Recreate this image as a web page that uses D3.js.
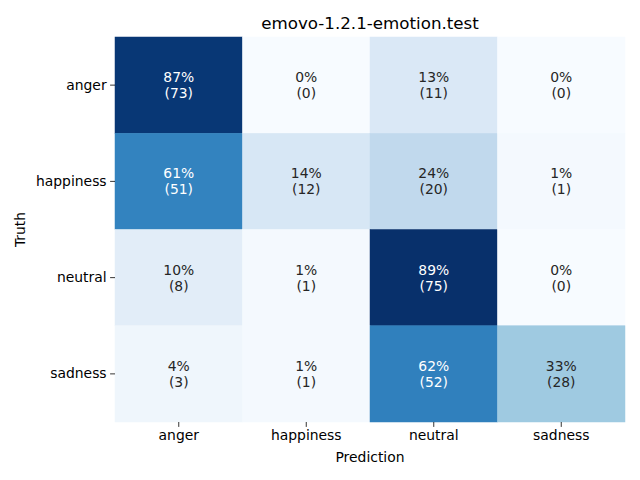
<!DOCTYPE html>
<html>
<head>
<meta charset="utf-8">
<script src="https://cdn.jsdelivr.net/npm/d3@7"></script>
<style>
  html, body { margin: 0; padding: 0; background: #fff; }
  text { font-family: "DejaVu Sans", sans-serif; }
</style>
</head>
<body>
<svg id="chart" width="640" height="480"></svg>
<script>
const title = "emovo-1.2.1-emotion.test";
const truthLabels = ["anger", "happiness", "neutral", "sadness"];
const predLabels = ["anger", "happiness", "neutral", "sadness"];
// counts[truth][prediction]
const countsAnger = [73, 0, 11, 0];
const countsHappiness = [51, 12, 20, 1];
const countsNeutral = [8, 1, 75, 0];
const countsSadness = [3, 1, 52, 28];
const counts = [countsAnger, countsHappiness, countsNeutral, countsSadness];
const xAxisLabel = "Prediction";
const yAxisLabel = "Truth";

const svg = d3.select("#chart");
const pLeft = 115, pRight = 625, pTop = 37, pBottom = 422;

const x = d3.scaleBand().domain(predLabels).range([pLeft, pRight]);
const y = d3.scaleBand().domain(truthLabels).range([pTop, pBottom]);

const cells = [];
counts.forEach((row, i) => {
  const total = d3.sum(row);
  row.forEach((c, j) => {
    cells.push({ truth: truthLabels[i], pred: predLabels[j], count: c, frac: c / total });
  });
});
const vmax = d3.max(cells, d => d.frac);
const vmin = d3.min(cells, d => d.frac);
const blues = ["#f7fbff", "#deebf7", "#c6dbef", "#9ecae1", "#6baed6", "#4292c6", "#2171b5", "#08519c", "#08306b"];
const color = d3.scaleLinear()
  .domain(blues.map((_, k) => vmin + (vmax - vmin) * k / (blues.length - 1)))
  .range(blues)
  .interpolate(d3.interpolateRgb);

function lum(c) {
  const rgb = d3.rgb(c);
  const f = v => { v /= 255; return v <= 0.03928 ? v / 12.92 : Math.pow((v + 0.055) / 1.055, 2.4); };
  return 0.2126 * f(rgb.r) + 0.7152 * f(rgb.g) + 0.0722 * f(rgb.b);
}

const g = svg.append("g");
g.selectAll("rect").data(cells).enter().append("rect")
  .attr("x", d => x(d.pred))
  .attr("y", d => y(d.truth))
  .attr("width", x.bandwidth())
  .attr("height", y.bandwidth())
  .attr("fill", d => color(d.frac))
  .attr("stroke", d => color(d.frac))
  .attr("stroke-width", 0.5);

const labels = g.selectAll("text.cell").data(cells).enter().append("text")
  .attr("class", "cell")
  .attr("text-anchor", "middle")
  .attr("font-size", "13.9px")
  .attr("fill", d => lum(color(d.frac)) > 0.408 ? "#262626" : "#ffffff");
labels.append("tspan")
  .attr("x", d => x(d.pred) + x.bandwidth() / 2)
  .attr("y", d => y(d.truth) + y.bandwidth() / 2 - 3)
  .text(d => Math.round(d.frac * 100) + "%");
labels.append("tspan")
  .attr("x", d => x(d.pred) + x.bandwidth() / 2)
  .attr("y", d => y(d.truth) + y.bandwidth() / 2 + 13)
  .text(d => "(" + d.count + ")");

const xAxis = svg.append("g")
  .attr("transform", `translate(0,${pBottom})`)
  .call(d3.axisBottom(x).tickSize(4.9).tickPadding(3.5));
const yAxis = svg.append("g")
  .attr("transform", `translate(${pLeft},0)`)
  .call(d3.axisLeft(y).tickSize(4.9).tickPadding(3.5));
[xAxis, yAxis].forEach(a => {
  a.select(".domain").remove();
  a.selectAll("line").attr("stroke", "#000").attr("stroke-width", 0.8);
  a.selectAll("text").attr("font-size", "13.9px").attr("fill", "#000").attr("font-family", "DejaVu Sans, sans-serif");
});

svg.append("text")
  .attr("x", (pLeft + pRight) / 2).attr("y", 29)
  .attr("text-anchor", "middle")
  .attr("font-size", "16.7px")
  .text(title);
svg.append("text")
  .attr("x", (pLeft + pRight) / 2).attr("y", 462)
  .attr("text-anchor", "middle")
  .attr("font-size", "13.9px")
  .text(xAxisLabel);
svg.append("text")
  .attr("transform", `translate(25,${(pTop + pBottom) / 2}) rotate(-90)`)
  .attr("text-anchor", "middle")
  .attr("font-size", "13.9px")
  .text(yAxisLabel);
</script>
</body>
</html>
